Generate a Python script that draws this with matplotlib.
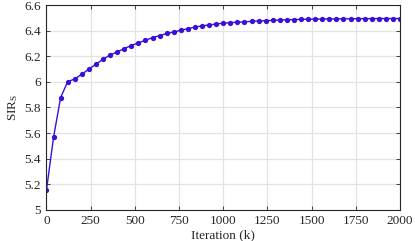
import matplotlib
matplotlib.use("Agg")
import matplotlib.pyplot as plt
import numpy as np

iterations = list(range(0, 2001, 40))
sir_s = [5.156, 5.568, 5.877, 6.002, 6.023, 6.06, 6.10, 6.138, 6.177, 6.21,
         6.234, 6.26, 6.284, 6.305, 6.325, 6.346, 6.361, 6.378, 6.39, 6.403,
         6.416, 6.428, 6.437, 6.445, 6.452, 6.458, 6.463, 6.466, 6.469, 6.473,
         6.476, 6.478, 6.481, 6.483, 6.485, 6.487, 6.488, 6.489, 6.490, 6.491,
         6.492, 6.492, 6.493, 6.493, 6.494, 6.494, 6.494, 6.495, 6.495, 6.495,
         6.495]
xticks = [0, 250, 500, 750, 1000, 1250, 1500, 1750, 2000]
yticks = [5, 5.2, 5.4, 5.6, 5.8, 6, 6.2, 6.4, 6.6]
ytick_labels = ["5", "5.2", "5.4", "5.6", "5.8", "6", "6.2", "6.4", "6.6"]

plt.rcParams['font.family'] = ['Liberation Serif', 'DejaVu Serif']
plt.rcParams['mathtext.fontset'] = 'custom'
plt.rcParams['mathtext.rm'] = 'Liberation Serif'
plt.rcParams['mathtext.it'] = 'Liberation Serif:italic'

fig = plt.figure(figsize=(4.15, 2.41), dpi=100)
ax = fig.add_axes([0.112, 0.129, 0.852, 0.850])
ax.plot(iterations, sir_s, color='#3a0fd8', lw=1.0, marker='o', ms=3.8,
        markeredgewidth=0)
ax.set_xlim(0, 2000)
ax.set_ylim(5, 6.6)
ax.set_xticks(xticks)
ax.set_yticks(yticks)
ax.set_yticklabels(ytick_labels)
ax.grid(True, color='#e3e3e3', lw=0.9)
ax.set_axisbelow(True)
ax.tick_params(direction='in', top=True, right=True, labelsize=9.5,
               length=3, width=0.6, colors='#262626')
ax.tick_params(axis='x', pad=4)
ax.tick_params(axis='y', pad=4)
for s in ax.spines.values():
    s.set_color('#262626')
    s.set_linewidth(0.8)
ax.set_xlabel('Iteration (k)', fontsize=9.5, labelpad=1, color='#262626')
ax.set_ylabel(r'SIR$_\mathrm{S}$', fontsize=9.5, labelpad=3, color='#262626')
fig.savefig('out.png', dpi=100)
